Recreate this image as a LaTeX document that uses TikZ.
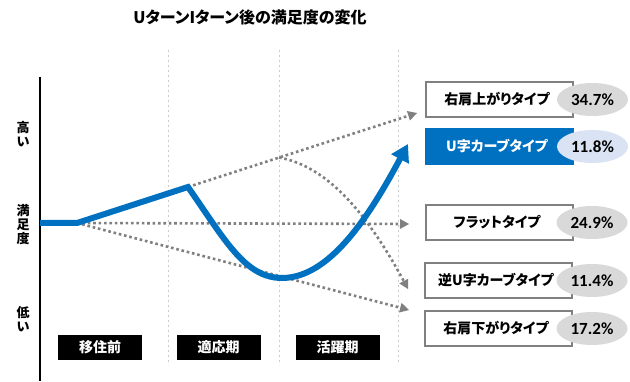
\documentclass[tikz,border=0pt]{standalone}
\usepackage{fontspec}
\usepackage{xcolor,tikz}
\usetikzlibrary{arrows.meta,positioning,shapes.geometric}
\newfontfamily\jp{Noto Sans CJK JP}[RawFeature=+palt]
\newfontfamily\num{Carlito}
\definecolor{MainBlue}{HTML}{0070C0}
\definecolor{PaleBlue}{HTML}{DAE3F3}
\definecolor{DotGray}{HTML}{808080}
\definecolor{EllGray}{HTML}{D9D9D9}

\begin{document}
\begin{tikzpicture}[x=1pt,y=-1pt,>=Latex,
  every node/.style={font=\jp\bfseries\fontsize{14}{15}\selectfont,align=center},
  typebox/.style={draw=DotGray,line width=1.3pt,fill=white,minimum width=147pt,minimum height=35pt,inner sep=0pt},
  pct/.style={ellipse,fill=EllGray,minimum width=71pt,minimum height=33pt,inner sep=0pt,font=\num\bfseries\fontsize{17}{17}\selectfont},
  phase/.style={fill=black,text=white,minimum width=84pt,minimum height=25pt,inner sep=0pt},
  dots/.style={DotGray,line width=2.6pt,dash pattern=on 2.6pt off 2.8pt,-{Triangle[length=9pt,width=10pt,line width=0pt]}},
  grid/.style={gray!40,line width=0.7pt,dash pattern=on 2.5pt off 2.5pt}]
\useasboundingbox[fill=white] (0,0) rectangle (630,382);

% title
\node[font=\jp\bfseries\fontsize{16}{17}\selectfont] (title) at (250,17) {UターンIターン後の満足度の変化};

% grid and axis
\foreach \gx in {168,279,398} \draw[grid] (\gx,50) -- (\gx,365);
\draw[line width=2pt] (40,77) -- (40,381);
\node[font=\jp\bfseries\fontsize{13}{14}\selectfont] (high) at (23,134) {高\\い};
\node[font=\jp\bfseries\fontsize{13}{14}\selectfont] (mid) at (23,225) {満\\足\\度};
\node[font=\jp\bfseries\fontsize{13}{14}\selectfont] (low) at (23,319) {低\\い};

% key points
\coordinate (start) at (40,223);
\coordinate (move) at (77,223);
\coordinate (peak) at (188,187);
\coordinate (fork) at (279,157.5);
\coordinate (upend) at (417,113);
\coordinate (flatend) at (409,224);
\coordinate (invend) at (408,289);
\coordinate (downend) at (409,310);
\coordinate (bottom) at (282,278);
\coordinate (uend) at (408,144);

% dotted trends
\draw[dots] (peak) -- (upend);
\draw[dots] (move) -- (flatend);
\draw[dots] (move) -- (downend);
\draw[dots] (fork) .. controls (320,165) and (360,200) .. (invend);

% main curve
\draw[MainBlue,line width=6pt,line join=miter,-{Triangle[length=17pt,width=19pt]}]
  (start) -- (move) -- (peak) .. controls (225,240) and (245,278) .. (bottom)
  .. controls (330,278) and (370,215) .. (uend);

% phases
\node[phase] (before) at (100,347.5) {移住前};
\node[phase] (adapt) at (218.5,347.5) {適応期};
\node[phase] (active) at (337.5,347.5) {活躍期};

% types
\node[typebox] (rise) at (499.5,99.5) {右肩上がりタイプ\hspace*{5pt}};
\node[typebox,fill=MainBlue,draw=MainBlue,text=white] (ucurve) at (499.5,146.5) {U字カーブタイプ\hspace*{5pt}};
\node[typebox] (flat) at (499.5,222.5) {フラットタイプ\hspace*{5pt}};
\node[typebox] (invu) at (498.5,280.5) {逆U字カーブタイプ\hspace*{5pt}};
\node[typebox] (fall) at (498.5,328.5) {右肩下がりタイプ\hspace*{5pt}};

\node[pct] (risep) at (592.5,99.5) {34.7\%};
\node[pct,fill=PaleBlue] (ucurvep) at (592.5,146.5) {11.8\%};
\node[pct] (flatp) at (592,222.5) {24.9\%};
\node[pct] (invup) at (592,280.5) {11.4\%};
\node[pct] (fallp) at (592,328.5) {17.2\%};
\end{tikzpicture}
\end{document}
